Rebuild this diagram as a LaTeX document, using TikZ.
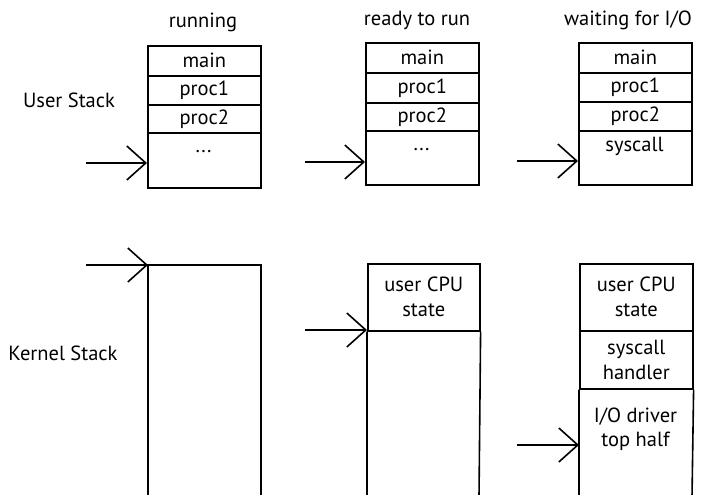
\documentclass[tikz,border=0pt]{standalone}
\usepackage{fontspec}
\setmainfont{PT Sans}
\usetikzlibrary{arrows.meta}
\begin{document}
\begin{tikzpicture}[x=1pt,y=-1pt,
  lw/.style={line width=1.6pt},
  cell/.style={draw, lw, minimum width=113pt, anchor=north west, inner sep=0pt, align=center, font=\fontsize{20.5}{25}\selectfont},
  txt/.style={inner sep=0pt, align=center, font=\fontsize{20.5}{24}\selectfont},
  ptr/.style={lw, -{Straight Barb[length=19pt,width=34pt,line width=1.6pt]}}]
\useasboundingbox (0,0) rectangle (702,495);
% titles
\node[txt] (t1) at (203,22) {running};
\node[txt] (t2) at (417,20) {ready to run};
\node[txt] (t3) at (628,20) {waiting for I/O};
\node[txt] (us) at (69,100) {User Stack};
\node[txt] (ks) at (63,353) {Kernel Stack};
% user stack: running
\node[cell, minimum height=30pt] (a1) at (147,45) {main};
\node[cell, minimum height=29pt] (a2) at (147,75) {proc1};
\node[cell, minimum height=28pt] (a3) at (147,104) {proc2};
\node[cell, minimum height=55pt] (a4) at (147,132) {};
\node[txt, anchor=base] (a4t) at (203.5,152) {...};
% user stack: ready to run
\node[cell, minimum height=30pt] (b1) at (365,42) {main};
\node[cell, minimum height=30pt] (b2) at (365,72) {proc1};
\node[cell, minimum height=28pt] (b3) at (365,102) {proc2};
\node[cell, minimum height=54pt] (b4) at (365,130) {};
\node[txt, anchor=base] (b4t) at (421.5,150) {...};
% user stack: waiting
\node[cell, minimum height=30pt] (c1) at (578,42) {main};
\node[cell, minimum height=29pt] (c2) at (578,72) {proc1};
\node[cell, minimum height=29pt] (c3) at (578,101) {proc2};
\node[cell, minimum height=54pt] (c4) at (578,130) {};
\node[txt, anchor=base] (c4t) at (634.5,151) {syscall};
% user stack pointers
\coordinate (pa) at (86,163); \coordinate (qa) at (147,163);
\coordinate (pb) at (305,162); \coordinate (qb) at (365,162);
\coordinate (pc) at (517,161); \coordinate (qc) at (578,161);
\draw[ptr] (pa) -- (qa);
\draw[ptr] (pb) -- (qb);
\draw[ptr] (pc) -- (qc);
% kernel stack: running
\coordinate (ka) at (148,265);
\draw[lw] (148,497) -- (ka) -- (261,265) -- (261,497);
% kernel stack: ready to run
\node[cell, minimum height=67pt, minimum width=112pt] (kb1) at (367,263) {user CPU\\state};
\draw[lw] (367,497) -- (kb1.south west) (kb1.south east) -- (479,497);
% kernel stack: waiting
\node[cell, minimum height=67pt] (kc1) at (579,263) {user CPU\\state};
\node[cell, minimum height=58pt] (kc2) at (579,330) {syscall\\handler};
\draw[lw] (579,497) -- (kc2.south west) (kc2.south east) -- (692,497);
\node[txt] (kc3) at (635.5,429) {I/O driver\\top half};
% kernel pointers
\coordinate (pd) at (86,265);
\coordinate (pe) at (305,330); \coordinate (qe) at (367,330);
\coordinate (pf) at (517,445); \coordinate (qf) at (579,445);
\draw[ptr] (pd) -- (ka);
\draw[ptr] (pe) -- (qe);
\draw[ptr] (pf) -- (qf);
\end{tikzpicture}
\end{document}
